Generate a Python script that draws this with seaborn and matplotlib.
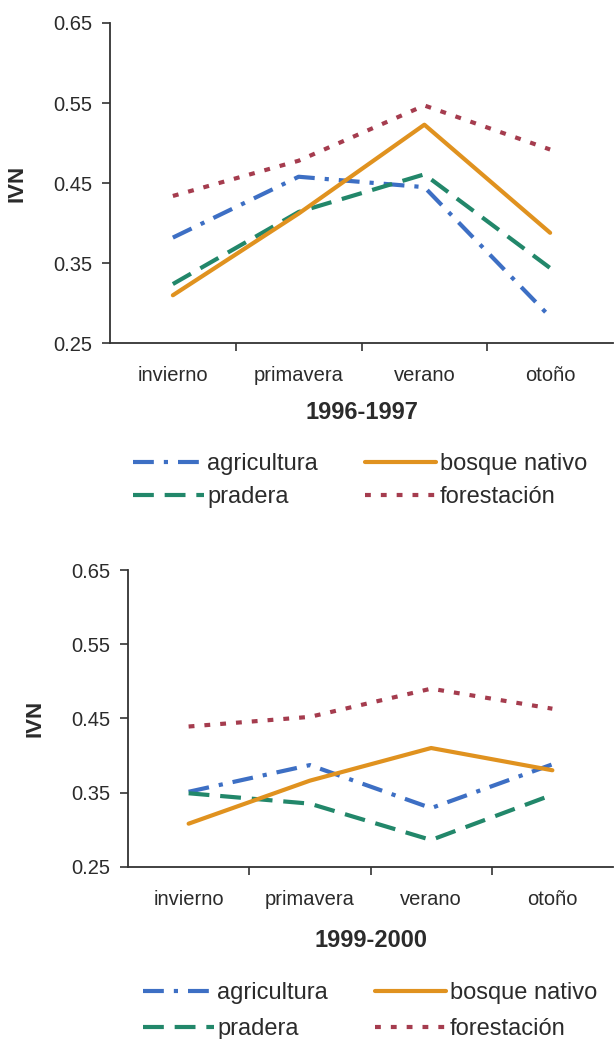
import matplotlib
matplotlib.use("Agg")
import matplotlib.pyplot as plt
import seaborn as sns
import pandas as pd

# Seasonal IVN values per land-cover class
seasons = ["invierno", "primavera", "verano", "otoño"]
classes = ["agricultura", "pradera", "bosque nativo", "forestación"]

agricultura_9697 = [0.382, 0.458, 0.445, 0.283]
pradera_9697 = [0.324, 0.414, 0.461, 0.344]
bosque_9697 = [0.310, 0.412, 0.523, 0.388]
forestacion_9697 = [0.434, 0.478, 0.547, 0.492]

agricultura_9900 = [0.351, 0.387, 0.329, 0.388]
pradera_9900 = [0.349, 0.335, 0.286, 0.347]
bosque_9900 = [0.308, 0.366, 0.410, 0.380]
forestacion_9900 = [0.439, 0.452, 0.490, 0.463]

y_ticks = [0.25, 0.35, 0.45, 0.55, 0.65]
y_tick_labels = ["0.25", "0.35", "0.45", "0.55", "0.65"]

colors = {
    "agricultura": "#3d6fc4",
    "pradera": "#22876a",
    "bosque nativo": "#e0921f",
    "forestación": "#a53c4e",
}
dashes = {
    "agricultura": (5, 2.4, 1, 2.4),
    "pradera": (5, 2.6),
    "bosque nativo": "",
    "forestación": (1.4, 2.4),
}


def long_form(series):
    rows = []
    for cls, vals in zip(classes, series):
        for i, (s, v) in enumerate(zip(seasons, vals)):
            rows.append({"pos": i, "estación": s, "clase": cls, "IVN": v})
    return pd.DataFrame(rows)


sns.set_theme(style="white")
plt.rcParams["font.family"] = ["Liberation Sans", "DejaVu Sans"]
text_color = "#2b2b2b"

fig = plt.figure(figsize=(6.15, 10.39), dpi=100)
W, H = 615, 1039

panels = [
    dict(data=[agricultura_9697, pradera_9697, bosque_9697, forestacion_9697],
         title="1996-1997", box=(110, 613, 23, 343.3),
         legend_xy=(133, 453), ylab_x=28, tick_pad=16, label_pad=12,
         spacing=0.47),
    dict(data=[agricultura_9900, pradera_9900, bosque_9900, forestacion_9900],
         title="1999-2000", box=(128, 613, 570, 866.7),
         legend_xy=(143, 982), ylab_x=45, tick_pad=17, label_pad=14,
         spacing=0.6),
]

for p in panels:
    l, r, t, b = p["box"]
    ax = fig.add_axes([l / W, 1 - b / H, (r - l) / W, (b - t) / H])
    df = long_form(p["data"])
    sns.lineplot(data=df, x="pos", y="IVN", hue="clase", style="clase",
                 hue_order=classes, style_order=classes, palette=colors,
                 dashes=dashes, linewidth=3.0, ax=ax, legend=False)

    ax.set_xlim(-0.5, 3.5)
    ax.set_ylim(0.25, 0.65)
    ax.set_yticks(y_ticks)
    ax.set_yticklabels(y_tick_labels)
    # tick marks at category boundaries, labels at category centres
    ax.set_xticks([0.5, 1.5, 2.5])
    ax.set_xticklabels([])
    ax.set_xticks(range(len(seasons)), minor=True)
    ax.set_xticklabels(seasons, minor=True)
    ax.tick_params(axis="x", which="major", direction="out", length=6,
                   width=1.2, color="#333333", bottom=True)
    ax.tick_params(axis="x", which="minor", length=0, pad=p["tick_pad"],
                   labelsize=14.5, labelcolor=text_color)
    ax.tick_params(axis="y", direction="out", length=6, width=1.2,
                   color="#333333", left=True, pad=7, labelsize=14.5,
                   labelcolor=text_color)

    for side in ("top", "right"):
        ax.spines[side].set_visible(False)
    for side in ("left", "bottom"):
        ax.spines[side].set_color("#333333")
        ax.spines[side].set_linewidth(1.3)

    ax.set_xlabel(p["title"], fontsize=17, fontweight="bold",
                  color=text_color, labelpad=p["label_pad"])
    ax.set_ylabel("IVN", fontsize=16, fontweight="bold", color=text_color)
    ax.yaxis.set_label_coords((p["ylab_x"] - l) / (r - l), 0.5)

    handles = [
        plt.Line2D([], [], color=colors[c], linewidth=3.0,
                   linestyle=(0, dashes[c]) if dashes[c] else "-")
        for c in classes
    ]
    lx, ly = p["legend_xy"]
    leg = fig.legend(handles, classes, loc="upper left",
                     bbox_to_anchor=(lx / W, 1 - ly / H), ncol=2,
                     frameon=False, fontsize=17, handlelength=3.0,
                     handletextpad=0.15, columnspacing=2.0,
                     labelspacing=p["spacing"], borderpad=0, borderaxespad=0)
    for txt in leg.get_texts():
        txt.set_color(text_color)

fig.savefig("out.png", dpi=100, facecolor="white")
